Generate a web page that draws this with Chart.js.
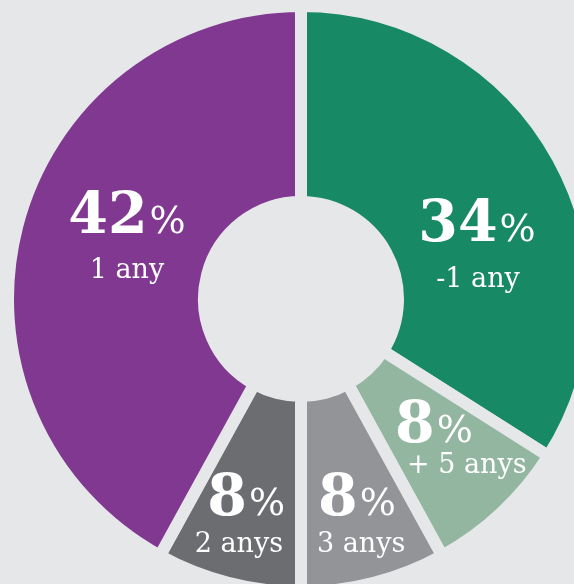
<!DOCTYPE html>
<html>
<head>
<meta charset="utf-8">
<script src="https://cdn.jsdelivr.net/npm/chart.js@4"></script>
<style>
  html, body { margin: 0; padding: 0; background: #e6e7e9; overflow: hidden; width: 574px; height: 584px; }
  canvas { display: block; }
</style>
</head>
<body>
<canvas id="c" width="602" height="598" style="width:602px;height:598px"></canvas>
<script>
// Data
const categories = ["-1 any", "+ 5 anys", "3 anys", "2 anys", "1 any"];
const values = [34, 8, 8, 8, 42];
const valueLabels = ["34", "8", "8", "8", "42"];
const colors = ["#178965", "#93b6a1", "#939498", "#6c6d71", "#803891"];

// Label placement (relative to the doughnut's centre): big-line baseline and sub-line baseline
const labelLayout = [
  { align: "center", bx: 176, by: -58, sx: 177, sy: -12 },
  { align: "left",   bx: 94,  by: 143, sx: 106, sy: 174 },
  { align: "left",   bx: 17,  by: 216, sx: 16,  sy: 253 },
  { align: "right",  bx: -16, by: 216, sx: -18, sy: 253 },
  { align: "center", bx: -174, by: -66, sx: -174, sy: -21 }
];

const BG = "#e6e7e9";
const bigFont = "bold 57px 'DejaVu Serif'";
const pctFont = "38px 'DejaVu Serif'";
const subFont = "27px 'DejaVu Serif'";

const labelPlugin = {
  id: "sliceLabels",
  afterDatasetsDraw(chart) {
    const ctx = chart.ctx;
    const meta = chart.getDatasetMeta(0);
    ctx.save();
    ctx.fillStyle = "#ffffff";
    ctx.textBaseline = "alphabetic";
    meta.data.forEach((arc, i) => {
      const L = labelLayout[i];
      const cx = arc.x, cy = arc.y;
      ctx.font = bigFont;
      const wNum = ctx.measureText(valueLabels[i]).width;
      ctx.font = pctFont;
      const wPct = ctx.measureText("%").width;
      const total = wNum + 2 + wPct;
      let x0 = cx + L.bx;
      if (L.align === "center") x0 -= total / 2;
      else if (L.align === "right") x0 -= total;
      ctx.textAlign = "left";
      ctx.font = bigFont;
      ctx.fillText(valueLabels[i], x0, cy + L.by);
      ctx.font = pctFont;
      ctx.fillText("%", x0 + wNum + 2, cy + L.by);
      ctx.font = subFont;
      ctx.textAlign = L.align;
      ctx.fillText(categories[i], cx + L.sx, cy + L.sy);
    });
    ctx.restore();
  }
};

new Chart(document.getElementById("c"), {
  type: "doughnut",
  data: {
    labels: categories,
    datasets: [{
      data: values,
      backgroundColor: colors,
      borderColor: BG,
      borderWidth: 12,
      borderAlign: "center",
      borderJoinStyle: "miter",
      hoverOffset: 0
    }]
  },
  options: {
    responsive: false,
    animation: false,
    events: [],
    cutout: 97,
    layout: { padding: 0 },
    plugins: { legend: { display: false }, tooltip: { enabled: false } }
  },
  plugins: [labelPlugin]
});
</script>
</body>
</html>
